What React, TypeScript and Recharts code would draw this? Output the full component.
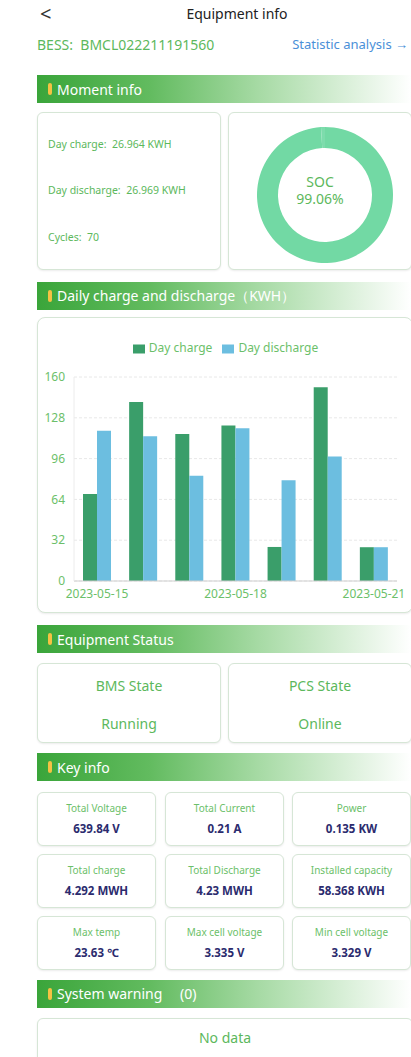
import { BarChart, Bar, XAxis, YAxis, CartesianGrid, Legend, PieChart, Pie, Cell } from 'recharts';

// Chart data
const DATES = ['2023-05-15', '2023-05-16', '2023-05-17', '2023-05-18', '2023-05-19', '2023-05-20', '2023-05-21'];
const DAY_CHARGE = [68.2, 140.4, 115.3, 122, 26.7, 151.9, 26.5];
const DAY_DISCHARGE = [117.8, 113.6, 82.5, 119.8, 79, 97.7, 26.5];
const Y_TICKS = [0, 32, 64, 96, 128, 160];

const SOC = [
  { name: 'soc', value: 99.06 },
  { name: 'rest', value: 0.94 },
];

const KEY_INFO = [
  { label: 'Total Voltage', value: '639.84 V' },
  { label: 'Total Current', value: '0.21 A' },
  { label: 'Power', value: '0.135 KW' },
  { label: 'Total charge', value: '4.292 MWH' },
  { label: 'Total Discharge', value: '4.23 MWH' },
  { label: 'Installed capacity', value: '58.368 KWH' },
  { label: 'Max temp', value: '23.63 ℃' },
  { label: 'Max cell voltage', value: '3.335 V' },
  { label: 'Min cell voltage', value: '3.329 V' },
];

const GREEN = '#5cb85c';
const FONT = '"Noto Sans", "Open Sans", sans-serif';

const chartData = DATES.map((d, i) => ({ date: d, charge: DAY_CHARGE[i], discharge: DAY_DISCHARGE[i] }));

const card: React.CSSProperties = {
  position: 'absolute',
  border: '1px solid #d6e6d6',
  borderRadius: 6,
  background: '#fff',
  boxShadow: '0 1px 2px rgba(0,0,0,0.08)',
  boxSizing: 'border-box',
};

function SectionBar({ top, title }: { top: number; title: string }) {
  return (
    <div
      style={{
        position: 'absolute',
        left: 37,
        top,
        width: 374,
        height: 28,
        background: 'linear-gradient(to right, #3aa53a 0%, #62bb5f 30%, #a8dba6 60%, #ffffff 100%)',
        display: 'flex',
        alignItems: 'center',
      }}
    >
      <div style={{ width: 4, height: 12, background: '#f5c243', borderRadius: 2, marginLeft: 11, marginRight: 5 }} />
      <span style={{ color: '#fff', fontSize: 14 }}>{title}</span>
    </div>
  );
}

export default function App() {
  return (
    <div style={{ position: 'absolute', left: 0, top: 0, width: 411, height: 1057, background: '#fff', fontFamily: FONT, overflow: 'hidden' }}>
      {/* Header */}
      <div style={{ position: 'absolute', left: 40, top: 2, fontSize: 20, color: '#333', lineHeight: '24px' }}>&lt;</div>
      <div style={{ position: 'absolute', left: 0, width: 474, top: 4, textAlign: 'center', fontSize: 14, color: '#222' }}>Equipment info</div>
      <div style={{ position: 'absolute', left: 37, top: 35, fontSize: 14, color: GREEN }}>BESS:&nbsp; BMCL022211191560</div>
      <div style={{ position: 'absolute', right: 3, top: 35, fontSize: 13, color: '#4a8fd8' }}>Statistic analysis →</div>

      <SectionBar top={75} title="Moment info" />
      <div style={{ ...card, left: 37, top: 112, width: 184, height: 158 }}>
        <div style={{ position: 'absolute', left: 10, top: 24, fontSize: 10.5, color: GREEN }}>Day charge:&nbsp; 26.964 KWH</div>
        <div style={{ position: 'absolute', left: 10, top: 70, fontSize: 10.5, color: GREEN }}>Day discharge:&nbsp; 26.969 KWH</div>
        <div style={{ position: 'absolute', left: 10, top: 117, fontSize: 10.5, color: GREEN }}>Cycles:&nbsp; 70</div>
      </div>
      <div style={{ ...card, left: 228, top: 112, width: 184, height: 158 }}>
        <PieChart width={184} height={158} style={{ position: 'absolute', left: 0, top: 0 }}>
          <Pie data={SOC} dataKey="value" cx={91} cy={77} innerRadius={47} outerRadius={68} startAngle={90} endAngle={-270} stroke="none" isAnimationActive={false}>
            {SOC.map((s, i) => (
              <Cell key={s.name} fill={i === 0 ? '#72d9a4' : '#7ddcac'} />
            ))}
          </Pie>
        </PieChart>
        <div style={{ position: 'absolute', left: 0, width: 182, top: 61, textAlign: 'center', fontSize: 14, color: GREEN, lineHeight: '15px' }}>SOC</div>
        <div style={{ position: 'absolute', left: 0, width: 182, top: 78, textAlign: 'center', fontSize: 14, color: GREEN, lineHeight: '15px' }}>99.06%</div>
      </div>

      <SectionBar top={282} title="Daily charge and discharge（KWH）" />
      <div style={{ ...card, left: 37, top: 317, width: 376, height: 296, borderRadius: 8 }}>
        <BarChart
          width={374}
          height={296}
          data={chartData}
          margin={{ top: 45, right: 15, left: 0, bottom: 13 }}
          barCategoryGap="20%"
          barGap={0}
        >
          <CartesianGrid vertical={false} stroke="#e8e8e8" strokeDasharray="3 2" />
          <XAxis
            dataKey="date"
            interval={2}
            tickLine={false}
            axisLine={{ stroke: '#cfcfcf' }}
            tick={{ fill: '#6cbf6a', fontSize: 12 }}
            tickMargin={2}
            height={20}
          />
          <YAxis
            domain={[0, 160]}
            ticks={Y_TICKS}
            width={36}
            tickLine={false}
            axisLine={{ stroke: '#ececec' }}
            tick={{ fill: '#6cbf6a', fontSize: 12 }}
            tickMargin={3}
          />
          <Legend
            verticalAlign="top"
            align="center"
            iconType="rect"
            iconSize={12}
            wrapperStyle={{ top: 23, left: 13, fontSize: 12, lineHeight: '14px' }}
            formatter={(value) => <span style={{ color: '#6cbf6a' }}>{value}</span>}
          />
          <Bar dataKey="charge" name="Day charge" fill="#3a9e6a" barSize={14} isAnimationActive={false} />
          <Bar dataKey="discharge" name="Day discharge" fill="#6cbee0" barSize={14} isAnimationActive={false} />
        </BarChart>
      </div>

      <SectionBar top={625} title="Equipment Status" />
      <div style={{ ...card, left: 37, top: 663, width: 184, height: 80 }}>
        <div style={{ position: 'absolute', width: '100%', top: 12, textAlign: 'center', fontSize: 14, color: GREEN }}>BMS State</div>
        <div style={{ position: 'absolute', width: '100%', top: 50, textAlign: 'center', fontSize: 14, color: GREEN }}>Running</div>
      </div>
      <div style={{ ...card, left: 228, top: 663, width: 184, height: 80 }}>
        <div style={{ position: 'absolute', width: '100%', top: 12, textAlign: 'center', fontSize: 14, color: GREEN }}>PCS State</div>
        <div style={{ position: 'absolute', width: '100%', top: 50, textAlign: 'center', fontSize: 14, color: GREEN }}>Online</div>
      </div>

      <SectionBar top={753} title="Key info" />
      {KEY_INFO.map((k, i) => {
        const col = i % 3;
        const row = Math.floor(i / 3);
        const left = [37, 165, 292][col];
        const top = 792 + row * 62;
        return (
          <div key={k.label} style={{ ...card, left, top, width: 119, height: 54 }}>
            <div style={{ position: 'absolute', width: '100%', top: 8, textAlign: 'center', fontSize: 10, color: '#6cbf6a' }}>{k.label}</div>
            <div style={{ position: 'absolute', width: '100%', top: 28, textAlign: 'center', fontSize: 11.5, fontWeight: 700, color: '#2b2b6e' }}>{k.value}</div>
          </div>
        );
      })}

      <SectionBar top={980} title="System warning　 (0)" />
      <div style={{ ...card, left: 37, top: 1018, width: 376, height: 60 }}>
        <div style={{ position: 'absolute', width: '100%', top: 9, textAlign: 'center', fontSize: 14, color: GREEN }}>No data</div>
      </div>
    </div>
  );
}
